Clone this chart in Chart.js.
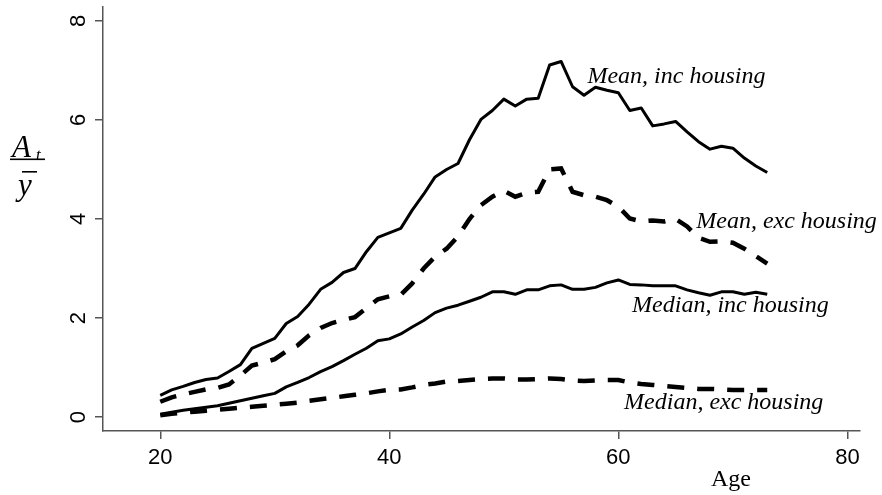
<!DOCTYPE html>
<html>
<head>
<meta charset="utf-8">
<script src="https://cdn.jsdelivr.net/npm/chart.js@4.4.1/dist/chart.umd.min.js"></script>
<style>
  html, body { margin: 0; padding: 0; background: #fff; }
  #wrap { width: 882px; height: 495px; }
</style>
</head>
<body>
<div id="wrap"><canvas id="wealthChart" width="882" height="495"></canvas></div>
<script>
// Ages on the horizontal axis
const ages = [20, 21, 22, 23, 24, 25, 26, 27, 28, 29, 30, 31, 32, 33, 34, 35, 36, 37, 38, 39,
              40, 41, 42, 43, 44, 45, 46, 47, 48, 49, 50, 51, 52, 53, 54, 55, 56, 57, 58, 59,
              60, 61, 62, 63, 64, 65, 66, 67, 68, 69, 70, 71, 72, 73];

// Wealth relative to average income
const meanInc = [0.44, 0.55, 0.62, 0.70, 0.76, 0.79, 0.92, 1.06, 1.39, 1.49,
                 1.59, 1.89, 2.03, 2.28, 2.58, 2.72, 2.92, 3.00, 3.34, 3.63,
                 3.72, 3.81, 4.18, 4.50, 4.85, 5.00, 5.12, 5.60, 6.01, 6.19,
                 6.42, 6.28, 6.42, 6.44, 7.11, 7.18, 6.67, 6.50, 6.66, 6.60,
                 6.55, 6.19, 6.24, 5.88, 5.92, 5.97, 5.76, 5.56, 5.41, 5.47,
                 5.43, 5.23, 5.07, 4.94];
const meanExc = [0.31, 0.40, 0.46, 0.51, 0.56, 0.59, 0.66, 0.84, 1.04, 1.10,
                 1.17, 1.33, 1.45, 1.65, 1.80, 1.90, 1.96, 2.02, 2.20, 2.38,
                 2.44, 2.47, 2.70, 3.00, 3.24, 3.40, 3.65, 4.00, 4.28, 4.45,
                 4.57, 4.45, 4.53, 4.55, 5.00, 5.02, 4.55, 4.48, 4.45, 4.38,
                 4.25, 4.01, 3.95, 3.97, 3.95, 4.00, 3.85, 3.62, 3.54, 3.55,
                 3.52, 3.40, 3.25, 3.10];
const medianInc = [0.06, 0.10, 0.14, 0.17, 0.20, 0.23, 0.28, 0.33, 0.38, 0.43,
                   0.48, 0.61, 0.70, 0.80, 0.92, 1.02, 1.14, 1.27, 1.39, 1.54,
                   1.58, 1.68, 1.82, 1.95, 2.11, 2.20, 2.26, 2.34, 2.42, 2.53,
                   2.53, 2.48, 2.57, 2.57, 2.65, 2.67, 2.58, 2.58, 2.62, 2.71,
                   2.77, 2.68, 2.67, 2.65, 2.65, 2.65, 2.57, 2.51, 2.46, 2.53,
                   2.53, 2.48, 2.52, 2.48];
const medianExc = [0.04, 0.07, 0.09, 0.11, 0.13, 0.15, 0.17, 0.19, 0.21, 0.23,
                   0.25, 0.27, 0.29, 0.33, 0.36, 0.39, 0.42, 0.45, 0.48, 0.52,
                   0.55, 0.56, 0.60, 0.65, 0.68, 0.72, 0.73, 0.75, 0.77, 0.78,
                   0.78, 0.76, 0.76, 0.77, 0.78, 0.77, 0.74, 0.73, 0.74, 0.75,
                   0.75, 0.70, 0.67, 0.65, 0.63, 0.61, 0.59, 0.57, 0.57, 0.56,
                   0.55, 0.55, 0.55, 0.55];

const seriesNames = ['Mean, inc housing', 'Mean, exc housing', 'Median, inc housing', 'Median, exc housing'];
const xTicks = [20, 40, 60, 80];
const yTicks = [0, 2, 4, 6, 8];

// where each series name sits, in data units (age, value at text baseline)
const nameAnchors = [[57.3, 6.75], [66.8, 3.82], [61.2, 2.12], [60.5, 0.16]];

const AXIS_GREY = '#555';

function toPoints(values) {
    return ages.map((a, i) => ({ x: a, y: values[i] }));
}

function lineSet(name, values, dashed) {
    return {
        label: name,
        data: toPoints(values),
        borderColor: '#000',
        borderWidth: dashed ? 4.5 : 3,
        borderDash: dashed ? [17, 13] : [],
        borderCapStyle: 'butt',
        borderJoinStyle: dashed ? 'miter' : 'round',
        pointRadius: 0,
        tension: 0,
        fill: false
    };
}

// Rotated y tick labels, axis titles and series names
const textPlugin = {
    id: 'textPlugin',
    afterDraw(chart) {
        const ctx = chart.ctx;
        const xs = chart.scales.x;
        const ys = chart.scales.y;
        ctx.save();
        ctx.fillStyle = '#000';

        // y tick labels, reading bottom to top
        ctx.font = '22px "Liberation Sans", Arial, sans-serif';
        ctx.textAlign = 'center';
        ctx.textBaseline = 'middle';
        ys.ticks.forEach(t => {
            const py = ys.getPixelForValue(t.value);
            ctx.save();
            ctx.translate(79, py);
            ctx.rotate(-Math.PI / 2);
            ctx.fillText(String(t.value), 0, 0);
            ctx.restore();
        });

        // series names
        ctx.font = 'italic 24px "Liberation Serif", "Times New Roman", serif';
        ctx.textAlign = 'left';
        ctx.textBaseline = 'alphabetic';
        seriesNames.forEach((name, i) => {
            const [ax, ay] = nameAnchors[i];
            ctx.fillText(name, xs.getPixelForValue(ax), ys.getPixelForValue(ay));
        });

        // x title
        ctx.font = '24px "Liberation Serif", "Times New Roman", serif';
        ctx.textAlign = 'center';
        ctx.fillText('Age', 731, 486);

        // y title: A_t over y-bar
        ctx.font = 'italic 31px "Liberation Serif", "Times New Roman", serif';
        ctx.textAlign = 'left';
        ctx.fillText('A', 12, 157);
        ctx.font = 'italic 17px "Liberation Serif", "Times New Roman", serif';
        ctx.fillText('t', 36, 160);
        ctx.font = 'italic 31px "Liberation Serif", "Times New Roman", serif';
        ctx.fillText('y', 18, 195);
        ctx.fillRect(10, 158.5, 35, 1.6);
        ctx.fillRect(22, 171, 15, 1.6);

        ctx.restore();
    }
};

const ctx = document.getElementById('wealthChart');
new Chart(ctx, {
    type: 'line',
    data: {
        datasets: [
            lineSet(seriesNames[0], meanInc, false),
            lineSet(seriesNames[1], meanExc, true),
            lineSet(seriesNames[2], medianInc, false),
            lineSet(seriesNames[3], medianExc, true)
        ]
    },
    options: {
        responsive: false,
        animation: false,
        devicePixelRatio: 1,
        layout: { padding: { left: 0, right: 22, top: 7, bottom: 0 } },
        plugins: {
            legend: { display: false },
            tooltip: { enabled: false }
        },
        scales: {
            x: {
                type: 'linear',
                min: 15,
                max: 81.1,
                afterBuildTicks: scale => { scale.ticks = xTicks.map(v => ({ value: v })); },
                afterFit: scale => { scale.height = 64; },
                grid: { drawOnChartArea: false, drawTicks: true, tickLength: 8, color: AXIS_GREY, lineWidth: 1.5 },
                border: { display: true, color: AXIS_GREY, width: 1.5 },
                ticks: {
                    color: '#000',
                    font: { family: '"Liberation Sans", Arial, sans-serif', size: 22 },
                    padding: 6,
                    maxRotation: 0,
                    autoSkip: false
                }
            },
            y: {
                type: 'linear',
                min: -0.28,
                max: 8.28,
                afterBuildTicks: scale => { scale.ticks = yTicks.map(v => ({ value: v })); },
                afterFit: scale => { scale.width = 103; },
                grid: { drawOnChartArea: false, drawTicks: true, tickLength: 8, color: AXIS_GREY, lineWidth: 1.5 },
                border: { display: true, color: AXIS_GREY, width: 1.5 },
                ticks: { display: false }
            }
        }
    },
    plugins: [textPlugin]
});
</script>
</body>
</html>
